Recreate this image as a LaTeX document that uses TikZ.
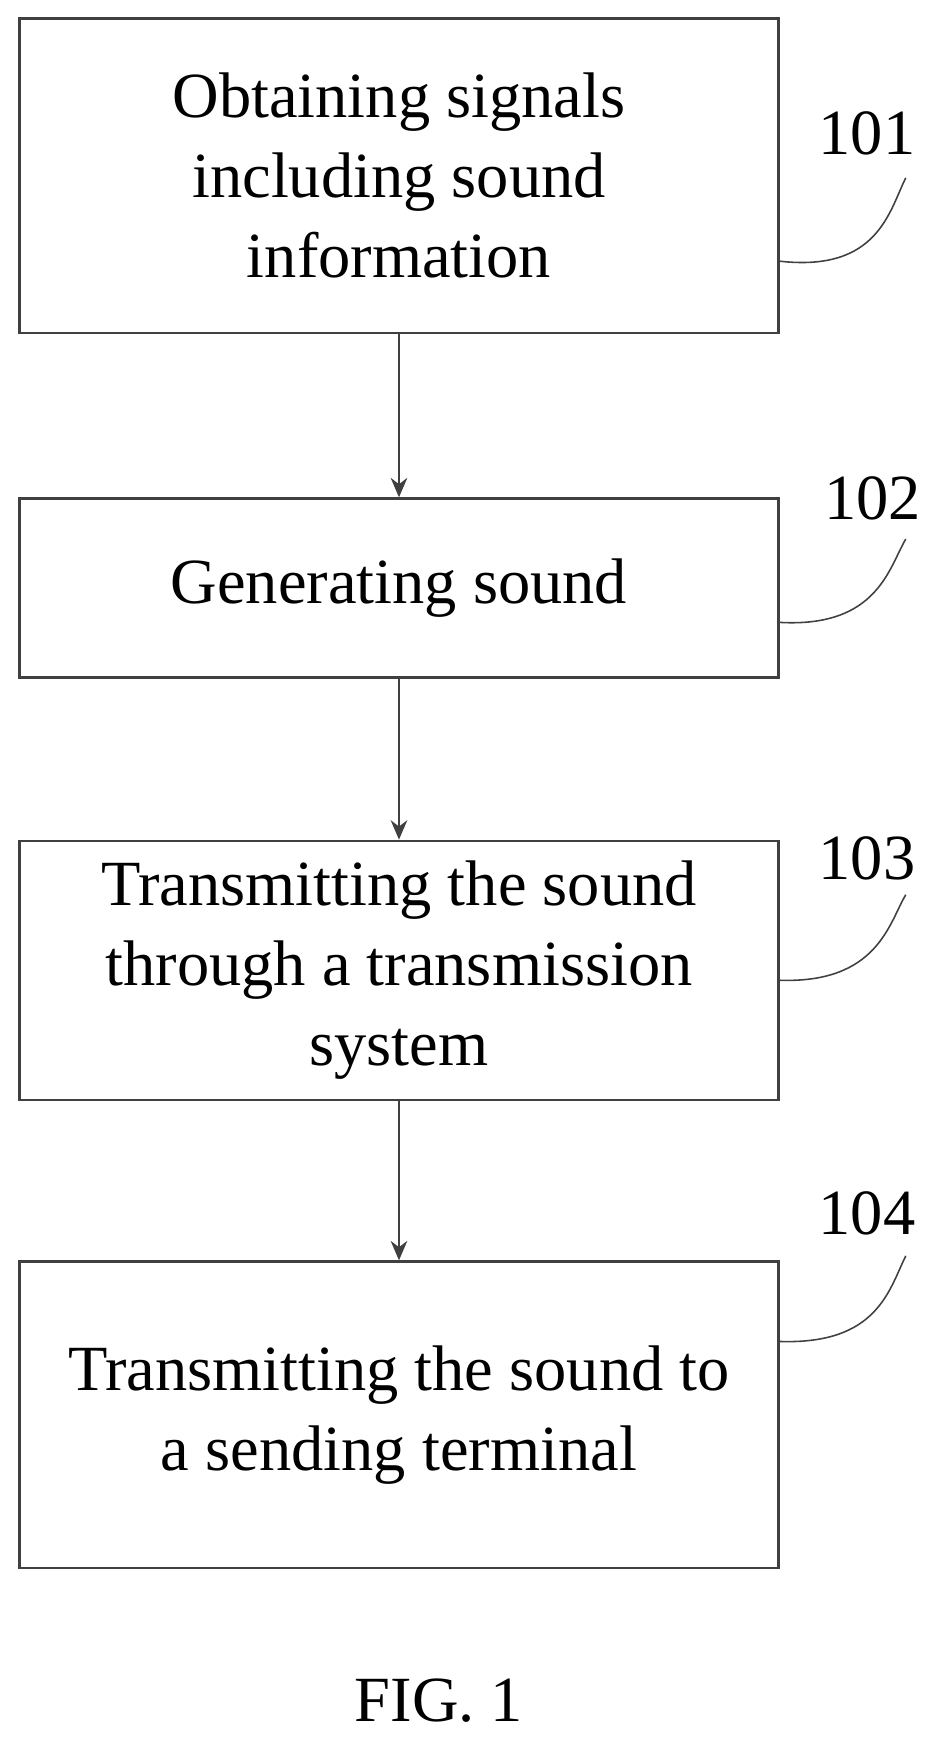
\documentclass[tikz,border=0pt]{standalone}
\usepackage{fontspec}
\setmainfont{Liberation Serif}
\usetikzlibrary{arrows.meta,positioning}

\begin{document}
\begin{tikzpicture}[x=0.02cm, y=-0.02cm,
    stage/.style={draw=black!75, line width=1.2pt, minimum width=13.66cm, align=center, font=\fontsize{33}{41}\selectfont},
    flow/.style={draw=black!75, line width=0.8pt, -{Stealth[length=3.5mm, width=3mm]}},
    lead/.style={draw=black!75, line width=0.8pt},
    tag/.style={font=\fontsize{33}{41}\selectfont}]
    \useasboundingbox (0,0) rectangle (850,1580);

    % Steps
    \node[stage, minimum height=5.66cm] (s101) at (359,158) {Obtaining signals\\including sound\\information};
    \node[stage, minimum height=3.22cm] (s102) at (359,529) {Generating sound};
    \node[stage, minimum height=4.66cm] (s103) at (359,873) {Transmitting the sound\\through a transmission\\system};
    \node[stage, minimum height=5.52cm] (s104) at (359,1273) {Transmitting the sound to\\a sending terminal};

    % Arrows
    \draw[flow] (s101) -- (s102);
    \draw[flow] (s102) -- (s103);
    \draw[flow] (s103) -- (s104);

    % Reference numerals
    \node[tag] (n101) at (780,120) {101};
    \node[tag] (n102) at (785,448) {102};
    \node[tag] (n103) at (780,772) {103};
    \node[tag] (n104) at (780,1092) {104};
    \draw[lead] (s101.east |- 0,235) .. controls (790,245) and (800,190) .. (815,160);
    \draw[lead] (s102.east |- 0,560) .. controls (790,565) and (800,510) .. (815,485);
    \draw[lead] (s103.east |- 0,882) .. controls (790,885) and (800,830) .. (815,805);
    \draw[lead] (s104.east |- 0,1207) .. controls (790,1210) and (800,1160) .. (815,1130);

    % Caption
    \node[tag] (fig) at (395,1530) {FIG. 1};
\end{tikzpicture}
\end{document}
